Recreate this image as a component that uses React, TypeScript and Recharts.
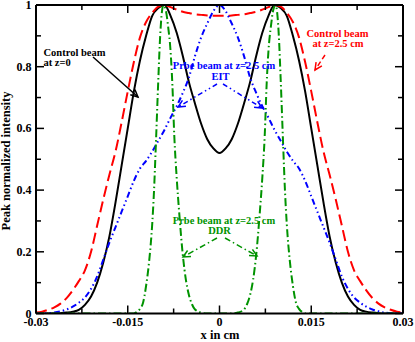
import { LineChart, Line, XAxis, YAxis } from 'recharts';

// x grid (cm) shared by the control beams and the EIT probe
const gridX = [
  -0.03, -0.029, -0.028, -0.027, -0.026, -0.025, -0.024, -0.023, -0.022, -0.021,
  -0.02, -0.019, -0.018, -0.017, -0.016, -0.015, -0.014, -0.013, -0.012, -0.011,
  -0.01, -0.009, -0.008, -0.007, -0.006, -0.005, -0.004, -0.003, -0.002, -0.001,
  0,
  0.001, 0.002, 0.003, 0.004, 0.005, 0.006, 0.007, 0.008, 0.009, 0.01,
  0.011, 0.012, 0.013, 0.014, 0.015, 0.016, 0.017, 0.018, 0.019, 0.02,
  0.021, 0.022, 0.023, 0.024, 0.025, 0.026, 0.027, 0.028, 0.029, 0.03,
];

// control beam at z=0 (black)
const controlZ0 = [
  0, 0, 0, 0, 0.001, 0.003, 0.006, 0.012, 0.028, 0.055,
  0.1, 0.165, 0.25, 0.36, 0.48, 0.6, 0.72, 0.82, 0.9, 0.965,
  0.99, 1.0, 0.965, 0.91, 0.835, 0.75, 0.68, 0.615, 0.565, 0.535,
  0.52,
  0.535, 0.565, 0.615, 0.68, 0.75, 0.835, 0.91, 0.965, 1.0, 0.99,
  0.965, 0.9, 0.82, 0.72, 0.6, 0.48, 0.36, 0.25, 0.165, 0.1,
  0.055, 0.028, 0.012, 0.006, 0.003, 0.001, 0, 0, 0, 0,
];

// control beam at z=2.5 cm (red dashed)
const controlZ25 = [
  0.003, 0.006, 0.012, 0.02, 0.032, 0.05, 0.075, 0.105, 0.14, 0.2,
  0.285, 0.37, 0.45, 0.525, 0.62, 0.72, 0.815, 0.895, 0.945, 0.975,
  0.995, 1.0, 0.993, 0.985, 0.978, 0.974, 0.97, 0.968, 0.966, 0.965,
  0.965,
  0.965, 0.966, 0.968, 0.97, 0.974, 0.978, 0.985, 0.993, 1.0, 0.995,
  0.975, 0.945, 0.895, 0.815, 0.72, 0.62, 0.525, 0.45, 0.37, 0.285,
  0.2, 0.14, 0.105, 0.075, 0.05, 0.032, 0.02, 0.012, 0.006, 0.003,
];

// probe beam, EIT (blue dash-dot-dot)
const probeEIT = [
  0, 0, 0.001, 0.003, 0.007, 0.013, 0.022, 0.035, 0.052, 0.08,
  0.12, 0.175, 0.23, 0.28, 0.33, 0.38, 0.43, 0.47, 0.495, 0.525,
  0.56, 0.595, 0.635, 0.672, 0.715, 0.765, 0.835, 0.895, 0.94, 0.98,
  1.0,
  0.98, 0.94, 0.895, 0.835, 0.765, 0.715, 0.672, 0.635, 0.595, 0.56,
  0.525, 0.495, 0.47, 0.43, 0.38, 0.33, 0.28, 0.23, 0.175, 0.12,
  0.08, 0.052, 0.035, 0.022, 0.013, 0.007, 0.003, 0.001, 0, 0,
];

// probe beam, DDR (green dash-dot)
const ddrX = [
  -0.03, -0.014, -0.0135, -0.013, -0.0125, -0.012, -0.0115, -0.011, -0.0107, -0.0104,
  -0.01, -0.0097, -0.0094, -0.0092, -0.0088, -0.0084, -0.008, -0.0077, -0.0074, -0.007,
  -0.0066, -0.006, -0.0055, -0.005, -0.0045, -0.004, -0.003, -0.002,
  0,
  0.002, 0.003, 0.004, 0.0045, 0.005, 0.0055, 0.006, 0.0066, 0.007, 0.0074,
  0.0077, 0.008, 0.0084, 0.0088, 0.0092, 0.0094, 0.0097, 0.01, 0.0104, 0.0107,
  0.011, 0.0115, 0.012, 0.0125, 0.013, 0.0135, 0.014, 0.03,
];
const probeDDR = [
  0, 0, 0.005, 0.015, 0.035, 0.09, 0.17, 0.29, 0.4, 0.55,
  0.76, 0.9, 0.98, 1.0, 0.985, 0.93, 0.85, 0.74, 0.58, 0.44,
  0.33, 0.19, 0.11, 0.06, 0.03, 0.013, 0.003, 0,
  0,
  0, 0.003, 0.013, 0.03, 0.06, 0.11, 0.19, 0.33, 0.44, 0.58,
  0.74, 0.85, 0.93, 0.985, 1.0, 0.98, 0.9, 0.76, 0.55, 0.4,
  0.29, 0.17, 0.09, 0.035, 0.015, 0.005, 0, 0,
];

const xTicks = [-0.03, -0.0225, -0.015, -0.0075, 0, 0.0075, 0.015, 0.0225, 0.03];
const yTicks = [0, 0.1, 0.2, 0.3, 0.4, 0.5, 0.6, 0.7, 0.8, 0.9, 1];

const toPoints = (xs: number[], ys: number[]) => xs.map((x, i) => ({ x, y: ys[i] }));

const FONT = '"Liberation Serif", "Times New Roman", serif';
const GREEN = '#009300';
const BLUE = '#0000ff';
const RED = '#ff0000';

const isMajorX = (v: number) => Math.abs(v / 0.015 - Math.round(v / 0.015)) < 1e-6;
const isMajorY = (v: number) => Math.round(v * 10) % 2 === 0;

const BottomTick = ({ x, y, payload }: any) => {
  const major = isMajorX(payload.value);
  return (
    <g>
      <line x1={x} y1={y} x2={x} y2={y - (major ? 8 : 5)} stroke="#000" strokeWidth={1.5} />
      {major && (
        <text x={x} y={y + 12.5} textAnchor="middle" fontFamily={FONT} fontWeight="bold" fontSize={12} fill="#000">
          {String(payload.value)}
        </text>
      )}
    </g>
  );
};

const TopTick = ({ x, y, payload }: any) => {
  const major = isMajorX(payload.value);
  return <line x1={x} y1={y} x2={x} y2={y + (major ? 8 : 5)} stroke="#000" strokeWidth={1.5} />;
};

const LeftTick = ({ x, y, payload }: any) => {
  const major = isMajorY(payload.value);
  return (
    <g>
      <line x1={x} y1={y} x2={x + (major ? 8 : 5)} y2={y} stroke="#000" strokeWidth={1.5} />
      {major && (
        <text x={x - 4.5} y={y + 4} textAnchor="end" fontFamily={FONT} fontWeight="bold" fontSize={12} fill="#000">
          {String(payload.value)}
        </text>
      )}
    </g>
  );
};

const RightTick = ({ x, y, payload }: any) => {
  const major = isMajorY(payload.value);
  return <line x1={x} y1={y} x2={x - (major ? 8 : 5)} y2={y} stroke="#000" strokeWidth={1.5} />;
};

const label = { fontFamily: FONT, fontWeight: 'bold' as const, fontSize: 10.5 };

function Arrow({ x1, y1, x2, y2, color, dash }: any) {
  const a = Math.atan2(y2 - y1, x2 - x1);
  const len = 8;
  const sp = 0.45;
  const p1 = [x2 - len * Math.cos(a - sp), y2 - len * Math.sin(a - sp)];
  const p2 = [x2 - len * Math.cos(a + sp), y2 - len * Math.sin(a + sp)];
  return (
    <g stroke={color} strokeWidth={1.5} fill="none">
      <line x1={x1} y1={y1} x2={x2} y2={y2} strokeDasharray={dash} />
      <polyline points={`${p1[0]},${p1[1]} ${x2},${y2} ${p2[0]},${p2[1]}`} />
    </g>
  );
}

export default function App() {
  return (
    <div style={{ position: 'absolute', left: 0, top: 0, width: 415, height: 342, background: '#fff' }}>
      <LineChart width={415} height={342} margin={{ top: 0, right: 0, bottom: 0, left: 0 }}>
        <XAxis
          dataKey="x"
          type="number"
          domain={[-0.03, 0.03]}
          ticks={xTicks}
          interval={0}
          height={28.5}
          tickSize={0}
          tickMargin={0}
          tickLine={false}
          axisLine={{ stroke: '#000', strokeWidth: 2 }}
          tick={<BottomTick />}
          allowDataOverflow
        />
        <XAxis
          xAxisId="top"
          orientation="top"
          dataKey="x"
          type="number"
          domain={[-0.03, 0.03]}
          ticks={xTicks}
          interval={0}
          height={5}
          tickSize={0}
          tickMargin={0}
          tickLine={false}
          axisLine={{ stroke: '#000', strokeWidth: 2 }}
          tick={<TopTick />}
          allowDataOverflow
        />
        <YAxis
          type="number"
          domain={[0, 1]}
          ticks={yTicks}
          interval={0}
          width={36}
          tickSize={0}
          tickMargin={0}
          tickLine={false}
          axisLine={{ stroke: '#000', strokeWidth: 2 }}
          tick={<LeftTick />}
          allowDataOverflow
        />
        <YAxis
          yAxisId="right"
          orientation="right"
          type="number"
          domain={[0, 1]}
          ticks={yTicks}
          interval={0}
          width={12}
          tickSize={0}
          tickMargin={0}
          tickLine={false}
          axisLine={{ stroke: '#000', strokeWidth: 2 }}
          tick={<RightTick />}
          allowDataOverflow
        />
        <Line data={toPoints(gridX, controlZ0)} dataKey="y" type="monotone" stroke="#000" strokeWidth={2} dot={false} isAnimationActive={false} />
        <Line data={toPoints(gridX, controlZ25)} dataKey="y" type="monotone" stroke={RED} strokeWidth={2} strokeDasharray="11 5" dot={false} isAnimationActive={false} />
        <Line data={toPoints(gridX, probeEIT)} dataKey="y" type="monotone" stroke={BLUE} strokeWidth={2} strokeDasharray="6 3 1.5 3 1.5 3" dot={false} isAnimationActive={false} />
        <Line data={toPoints(ddrX, probeDDR)} dataKey="y" type="monotone" stroke={GREEN} strokeWidth={2} strokeDasharray="8 3 1.5 3" dot={false} isAnimationActive={false} />
      </LineChart>
      <svg width={415} height={342} style={{ position: 'absolute', left: 0, top: 0, pointerEvents: 'none' }}>
        <text x={10} y={161} transform="rotate(-90 10 161)" textAnchor="middle" fontFamily={FONT} fontWeight="bold" fontSize={12.5}>
          Peak normalized intensity
        </text>
        <text x={220} y={339} textAnchor="middle" fontFamily={FONT} fontWeight="bold" fontSize={12.5}>
          x in cm
        </text>

        <text x={43.5} y={55.5} {...label} fill="#000">Control beam</text>
        <text x={43.5} y={66} {...label} fill="#000">at z=0</text>
        <Arrow x1={93} y1={57} x2={138} y2={97} color="#000" />

        <text x={337.5} y={36.5} textAnchor="middle" {...label} fill={RED}>Control beam</text>
        <text x={338} y={47} textAnchor="middle" {...label} fill={RED}>at z=2.5 cm</text>
        <Arrow x1={325} y1={55} x2={315} y2={70} color={RED} dash="5 3" />

        <text x={224} y={68.5} textAnchor="middle" {...label} fill={BLUE}>Prbe beam at z=2.5 cm</text>
        <text x={220.5} y={79.5} textAnchor="middle" {...label} fill={BLUE}>EIT</text>
        <Arrow x1={217} y1={84} x2={178} y2={107} color={BLUE} dash="5 3 1.5 3 1.5 3" />
        <Arrow x1={223} y1={84} x2={262} y2={108} color={BLUE} dash="5 3 1.5 3 1.5 3" />

        <text x={224} y={223.5} textAnchor="middle" {...label} fill={GREEN}>Prbe beam at z=2.5 cm</text>
        <text x={219.5} y={233.5} textAnchor="middle" {...label} fill={GREEN}>DDR</text>
        <Arrow x1={217} y1={238} x2={183} y2={257} color={GREEN} dash="6 3 1.5 3" />
        <Arrow x1={225} y1={238} x2={257} y2={256} color={GREEN} dash="6 3 1.5 3" />
      </svg>
    </div>
  );
}
